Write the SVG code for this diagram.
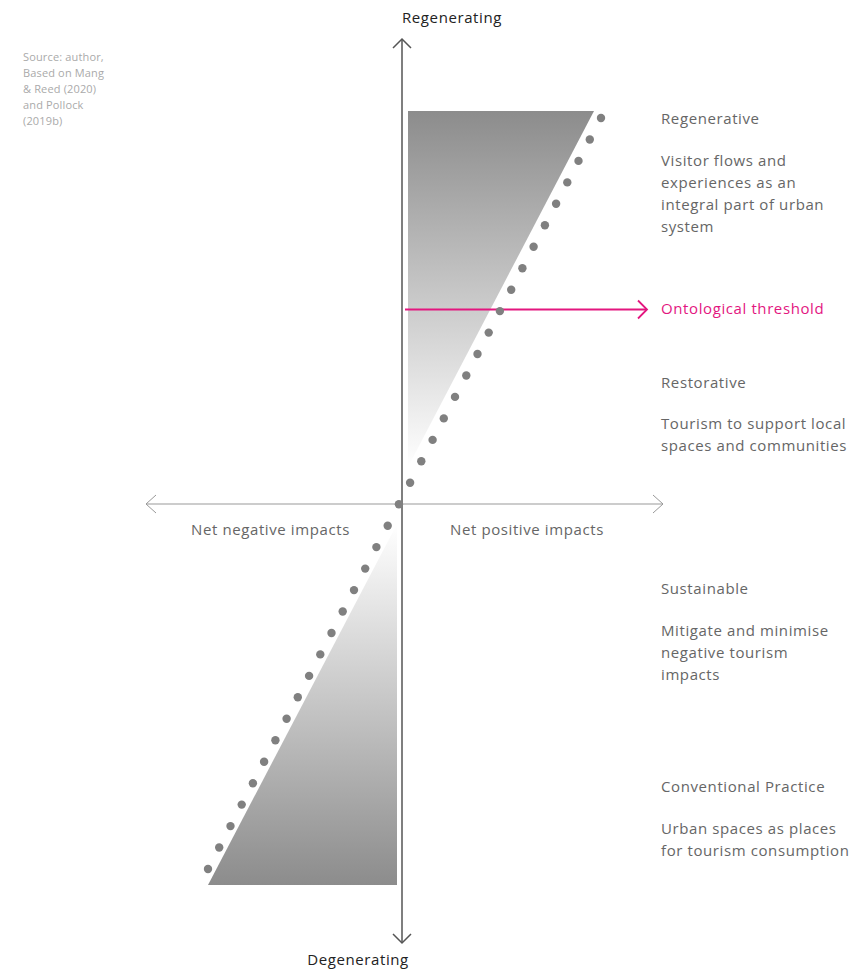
<svg xmlns="http://www.w3.org/2000/svg" width="855" height="969" viewBox="0 0 855 969">
<style>
  text { font-family: "Open Sans", "Liberation Sans", sans-serif; }
  .lbl { font-size: 15px; letter-spacing: 0.6px; fill: #666; }
  .ax { font-size: 15px; letter-spacing: 0.6px; fill: #222; }
  .src { font-size: 11px; letter-spacing: 0.15px; fill: #aaa; }
  .mag { font-size: 15px; letter-spacing: 0.6px; fill: #e3167f; }
  .dot { fill: #808080; }
  .vaxis { stroke: #555; stroke-width: 1.5; fill: none; }
  .haxis { stroke: #999; stroke-width: 1; fill: none; }
</style>
<defs>
  <linearGradient id="gUp" x1="0" y1="0" x2="0" y2="1">
    <stop offset="0" stop-color="#8c8c8c"/>
    <stop offset="1" stop-color="#ffffff"/>
  </linearGradient>
  <linearGradient id="gDown" x1="0" y1="0" x2="0" y2="1">
    <stop offset="0" stop-color="#ffffff"/>
    <stop offset="1" stop-color="#8c8c8c"/>
  </linearGradient>
</defs>
<rect width="855" height="969" fill="#ffffff"/>

<g id="source">
  <text class="src" x="23" y="61">Source: author,</text>
  <text class="src" x="23" y="77">Based on Mang</text>
  <text class="src" x="23" y="93">&amp; Reed (2020)</text>
  <text class="src" x="23" y="109">and Pollock</text>
  <text class="src" x="23" y="125">(2019b)</text>
</g>

<g id="upper-wedge">
  <polygon points="408,111 594,111 408,467" fill="url(#gUp)"/>
</g>
<g id="lower-wedge">
  <polygon points="397,524 397,885 208,885" fill="url(#gDown)"/>
</g>

<g id="connectors">
  <g id="horizontal-axis">
    <line class="haxis" x1="146" y1="504" x2="663" y2="504"/>
    <polyline class="haxis" points="156,495 146,504 156,513"/>
    <polyline class="haxis" points="653,495 663,504 653,513"/>
  </g>
  <g id="vertical-axis">
    <line class="vaxis" x1="402" y1="39" x2="402" y2="943"/>
    <polyline class="vaxis" points="393,48 402,39 411,48"/>
    <polyline class="vaxis" points="393,934 402,943 411,934"/>
  </g>
  <g id="threshold-arrow">
    <line x1="405" y1="309.5" x2="647" y2="309.5" stroke="#e3167f" stroke-width="1.8"/>
    <polyline points="638,300.5 647,309.5 638,318.5" fill="none" stroke="#e3167f" stroke-width="1.8"/>
  </g>
</g>

<g id="dots">
  <circle class="dot" cx="601" cy="118" r="4.2"/>
  <circle class="dot" cx="589.8" cy="139.5" r="4.2"/>
  <circle class="dot" cx="578.5" cy="160.9" r="4.2"/>
  <circle class="dot" cx="567.3" cy="182.4" r="4.2"/>
  <circle class="dot" cx="556.1" cy="203.8" r="4.2"/>
  <circle class="dot" cx="544.9" cy="225.3" r="4.2"/>
  <circle class="dot" cx="533.6" cy="246.7" r="4.2"/>
  <circle class="dot" cx="522.4" cy="268.2" r="4.2"/>
  <circle class="dot" cx="511.2" cy="289.7" r="4.2"/>
  <circle class="dot" cx="499.9" cy="311.1" r="4.2"/>
  <circle class="dot" cx="488.7" cy="332.6" r="4.2"/>
  <circle class="dot" cx="477.5" cy="354" r="4.2"/>
  <circle class="dot" cx="466.3" cy="375.5" r="4.2"/>
  <circle class="dot" cx="455" cy="396.9" r="4.2"/>
  <circle class="dot" cx="443.8" cy="418.4" r="4.2"/>
  <circle class="dot" cx="432.6" cy="439.9" r="4.2"/>
  <circle class="dot" cx="421.3" cy="461.3" r="4.2"/>
  <circle class="dot" cx="410.1" cy="482.8" r="4.2"/>
  <circle class="dot" cx="398.9" cy="504.2" r="4.2"/>
  <circle class="dot" cx="387.7" cy="525.7" r="4.2"/>
  <circle class="dot" cx="376.4" cy="547.1" r="4.2"/>
  <circle class="dot" cx="365.2" cy="568.6" r="4.2"/>
  <circle class="dot" cx="354" cy="590.1" r="4.2"/>
  <circle class="dot" cx="342.7" cy="611.5" r="4.2"/>
  <circle class="dot" cx="331.5" cy="633" r="4.2"/>
  <circle class="dot" cx="320.3" cy="654.4" r="4.2"/>
  <circle class="dot" cx="309.1" cy="675.9" r="4.2"/>
  <circle class="dot" cx="297.8" cy="697.3" r="4.2"/>
  <circle class="dot" cx="286.6" cy="718.8" r="4.2"/>
  <circle class="dot" cx="275.4" cy="740.3" r="4.2"/>
  <circle class="dot" cx="264.1" cy="761.7" r="4.2"/>
  <circle class="dot" cx="252.9" cy="783.2" r="4.2"/>
  <circle class="dot" cx="241.7" cy="804.6" r="4.2"/>
  <circle class="dot" cx="230.5" cy="826.1" r="4.2"/>
  <circle class="dot" cx="219.2" cy="847.5" r="4.2"/>
  <circle class="dot" cx="208" cy="869" r="4.2"/>
</g>

<g id="axis-labels">
  <text class="ax" x="452" y="23" text-anchor="middle">Regenerating</text>
  <text class="ax" x="358" y="965" text-anchor="middle">Degenerating</text>
  <text class="lbl" x="270.5" y="535" text-anchor="middle">Net negative impacts</text>
  <text class="lbl" x="527" y="535" text-anchor="middle">Net positive impacts</text>
</g>

<g id="regenerative">
  <text class="lbl" x="661" y="124">Regenerative</text>
  <text class="lbl" x="661" y="166">Visitor flows and</text>
  <text class="lbl" x="661" y="188">experiences as an</text>
  <text class="lbl" x="661" y="210">integral part of urban</text>
  <text class="lbl" x="661" y="232">system</text>
</g>
<g id="threshold">
  <text class="mag" x="661" y="314">Ontological threshold</text>
</g>
<g id="restorative">
  <text class="lbl" x="661" y="388">Restorative</text>
  <text class="lbl" x="661" y="429">Tourism to support local</text>
  <text class="lbl" x="661" y="451">spaces and communities</text>
</g>
<g id="sustainable">
  <text class="lbl" x="661" y="594">Sustainable</text>
  <text class="lbl" x="661" y="636">Mitigate and minimise</text>
  <text class="lbl" x="661" y="658">negative tourism</text>
  <text class="lbl" x="661" y="680">impacts</text>
</g>
<g id="conventional">
  <text class="lbl" x="661" y="792">Conventional Practice</text>
  <text class="lbl" x="661" y="834">Urban spaces as places</text>
  <text class="lbl" x="661" y="856">for tourism consumption</text>
</g>
</svg>
